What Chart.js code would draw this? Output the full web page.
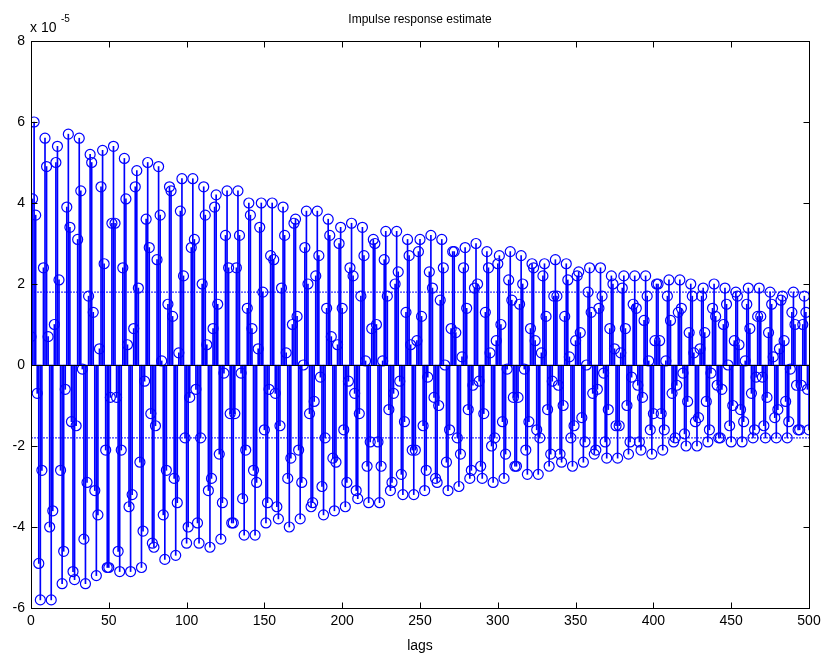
<!DOCTYPE html>
<html>
<head>
<meta charset="utf-8">
<title>Impulse response estimate</title>
<script src="https://cdn.jsdelivr.net/npm/chart.js@4.4.1/dist/chart.umd.min.js"></script>
<style>
  html, body { margin: 0; padding: 0; background: #fff; }
  #wrap { width: 827px; height: 658px; }
</style>
</head>
<body>
<div id="wrap"><canvas id="chart" width="827" height="658"></canvas></div>
<script>
'use strict';

// impulse response estimate, one value per lag (lag = index, 0..500), in units of 1e-5
const irValues = [
  0.7, 4.1, 6.0, 3.7, -0.7, -4.9, -5.8, -2.6, 2.4, 5.6, 4.9, 0.7, -4.0, -5.8, -3.6, 1.0, 5.0, 5.4, 2.1, -2.6, -5.4, -4.6,
  -0.6, 3.9, 5.7, 3.4, -1.4, -5.1, -5.3, -1.5, 3.1, 5.6, 4.3, -0.1, -4.3, -5.4, -2.9, 1.7, 5.2, 5.0, 1.3, -3.1, -5.2, -3.7,
  0.4, 4.4, 5.3, 2.5, -2.1, -5.0, -5.0, -0.8, 3.5, 5.4, 3.5, -0.8, -4.6, -5.1, -2.1, 2.4, 5.1, 4.1, 0.5, -3.5, -5.1, -3.2,
  0.9, 4.4, 4.8, 1.9, -2.4, -5.0, -4.1, -0.4, 3.6, 5.0, 2.9, -1.2, -4.4, -4.5, -1.5, 2.6, 4.9, 3.7, 0.1, -3.7, -4.8, -2.6,
  1.5, 4.4, 4.3, 1.2, -2.8, -4.7, -3.4, 0.3, 3.8, 4.6, 2.2, -1.8, -4.4, -4.0, -0.8, 2.9, 4.6, 3.1, -0.6, -3.9, -4.4, -1.8,
  2.0, 4.4, 3.7, 0.5, -3.1, -4.5, -2.8, 0.9, 3.9, 4.2, 1.5, -2.2, -4.3, -3.4, -0.2, 3.2, 4.3, 2.4, -1.2, -3.9, -3.9, -1.2,
  2.4, 4.3, 3.2, -0.2, -3.3, -4.2, -2.1, 1.4, 4.0, 3.7, 0.9, -2.6, -4.2, -2.9, 0.4, 3.4, 4.0, 1.8, -1.6, -3.9, -3.4, -0.6,
  2.7, 4.0, 2.6, -0.7, -3.5, -3.8, -1.5, 1.9, 3.9, 3.2, 0.3, -2.8, -4.0, -2.3, 1.0, 3.5, 3.6, 1.2, -2.1, -3.8, -2.9, 0.0,
  2.9, 3.8, 2.0, -1.2, -3.5, -3.4, -0.9, 2.2, 3.8, 2.7, -0.3, -3.0, -3.7, -1.8, 1.4, 3.6, 3.2, 0.7, -2.3, -3.6, -2.4, 0.5,
  3.0, 3.4, 1.4, -1.6, -3.5, -2.9, -0.4, 2.4, 3.5, 2.2, -0.7, -3.1, -3.3, -1.2, 1.7, 3.4, 2.7, 0.1, -2.5, -3.4, -1.9, 0.9,
  3.1, 3.0, 1.0, -1.9, -3.4, -2.5, 0.1, 2.6, 3.3, 1.7, -1.1, -3.1, -2.9, -0.7, 2.0, 3.3, 2.3, -0.4, -2.7, -3.2, -1.4, 1.3,
  3.1, 2.7, 0.5, -2.1, -3.2, -2.1, 0.6, 2.8, 3.1, 1.2, -1.5, -3.1, -2.6, -0.3, 2.3, 3.2, 1.9, -0.8, -2.8, -2.9, -1.0, 1.6,
  3.1, 2.4, 0.0, -2.4, -3.1, -1.6, 0.9, 2.8, 2.8, 0.8, -1.8, -3.0, -2.2, 0.2, 2.4, 2.9, 1.4, -1.1, -2.8, -2.6, -0.5, 1.9,
  3.0, 2.0, -0.4, -2.5, -2.8, -1.2, 1.3, 2.8, 2.4, 0.3, -2.0, -2.9, -1.8, 0.6, 2.5, 2.7, 1.0, -1.4, -2.8, -2.2, -0.1, 2.1,
  2.8, 1.6, -0.8, -2.5, -2.5, -0.8, 1.5, 2.7, 2.0, -0.1, -2.1, -2.7, -1.4, 0.9, 2.5, 2.4, 0.6, -1.6, -2.7, -1.8, 0.3, 2.2,
  2.5, 1.2, -1.1, -2.5, -2.2, -0.4, 1.7, 2.6, 1.7, -0.5, -2.2, -2.4, -1.0, 1.2, 2.5, 2.1, 0.2, -1.8, -2.5, -1.5, 0.6, 2.2,
  2.3, 0.8, -1.3, -2.4, -1.9, 0.0, 1.8, 2.4, 1.3, -0.7, -2.2, -2.1, -0.6, 1.4, 2.4, 1.7, -0.2, -1.9, -2.3, -1.1, 0.9, 2.2,
  2.0, 0.4, -1.5, -2.3, -1.5, 0.3, 1.9, 2.2, 0.9, -1.0, -2.2, -1.9, -0.3, 1.5, 2.2, 1.4, -0.5, -1.9, -2.1, -0.8, 1.1, 2.2,
  1.7, 0.1, -1.6, -2.2, -1.2, 0.6, 2.0, 2.0, 0.6, -1.2, -2.1, -1.6, 0.1, 1.7, 2.1, 1.1, -0.7, -1.9, -1.8, -0.5, 1.3, 2.1,
  1.4, -0.2, -1.7, -2.0, -0.9, 0.8, 2.0, 1.7, 0.3, -1.4, -2.0, -1.3, 0.4, 1.7, 1.9, 0.8, -0.9, -1.9, -1.6, -0.2, 1.4, 2.0,
  1.2, -0.5, -1.8, -1.8, -0.6, 1.0, 1.9, 1.5, 0.0, -1.5, -1.9, -1.0, 0.6, 1.8, 1.7, 0.5, -1.1, -1.9, -1.4, 0.1, 1.5, 1.9,
  0.9, -0.7, -1.8, -1.6, -0.3, 1.2, 1.9, 1.2, -0.3, -1.5, -1.8, -0.8, 0.8, 1.8, 1.5, 0.2, -1.3, -1.8, -1.1, 0.4, 1.6, 1.7,
  0.6, -0.9, -1.8, -1.4, -0.1, 1.3, 1.8, 1.0, -0.5, -1.6, -1.6, -0.5, 1.0, 1.7, 1.3, -0.6, -1.6
];
const confBound = 1.8; // confidence band, +/- (units of 1e-5)
const xTicks = [0, 50, 100, 150, 200, 250, 300, 350, 400, 450, 500];
const yTicks = [-6, -4, -2, 0, 2, 4, 6, 8];
const titleText = 'Impulse response estimate';
const xLabel = 'lags';
const yExponent = '-5';

const BLUE = '#0000ff';
const FONT = '"Liberation Sans", Arial, Helvetica, sans-serif';

const stemPoints = irValues.map((v, i) => ({ x: i, y: v }));
const xMin = xTicks[0], xMax = xTicks[xTicks.length - 1];

// box, inward ticks, zero line and the texts matlab puts around the axes
const matlabAxes = {
  id: 'matlabAxes',
  afterDatasetsDraw(chart) {
    const { ctx, chartArea: a, scales: { x, y } } = chart;
    ctx.save();
    ctx.strokeStyle = '#000';
    ctx.lineWidth = 1;

    const y0 = Math.round(y.getPixelForValue(0)) + 0.5;
    ctx.beginPath();
    ctx.moveTo(a.left, y0);
    ctx.lineTo(a.right, y0);
    ctx.stroke();

    const L = Math.round(a.left) + 0.5, R = Math.round(a.right) + 0.5;
    const T = Math.round(a.top) + 0.5, B = Math.round(a.bottom) + 0.5;
    ctx.strokeRect(L, T, R - L, B - T);

    const tl = 6;
    ctx.beginPath();
    xTicks.forEach(v => {
      const px = Math.round(x.getPixelForValue(v)) + 0.5;
      ctx.moveTo(px, B); ctx.lineTo(px, B - tl);
      ctx.moveTo(px, T); ctx.lineTo(px, T + tl);
    });
    yTicks.forEach(v => {
      const py = Math.round(y.getPixelForValue(v)) + 0.5;
      ctx.moveTo(L, py); ctx.lineTo(L + tl, py);
      ctx.moveTo(R, py); ctx.lineTo(R - tl, py);
    });
    ctx.stroke();

    ctx.fillStyle = '#000';
    ctx.textBaseline = 'alphabetic';
    ctx.textAlign = 'center';
    ctx.font = '12px ' + FONT;
    ctx.fillText(titleText, (a.left + a.right) / 2, 23);
    ctx.font = '14px ' + FONT;
    ctx.fillText(xLabel, (a.left + a.right) / 2, 650);
    ctx.textAlign = 'left';
    ctx.fillText('x 10', 30, 32);
    ctx.font = '10px ' + FONT;
    ctx.fillText(yExponent, 61, 22);
    ctx.restore();
  }
};

new Chart(document.getElementById('chart'), {
  type: 'bar',
  data: {
    datasets: [
      {
        type: 'scatter',
        data: stemPoints,
        pointStyle: 'circle',
        pointRadius: 5,
        pointBorderWidth: 1.2,
        borderColor: BLUE,
        backgroundColor: 'rgba(0,0,0,0)',
        order: 1
      },
      {
        type: 'bar',
        data: stemPoints,
        backgroundColor: BLUE,
        barThickness: 1,
        grouped: false,
        order: 3
      },
      {
        type: 'line',
        data: [{ x: xMin, y: confBound }, { x: xMax, y: confBound }],
        borderColor: BLUE,
        borderWidth: 1,
        borderDash: [2, 1],
        pointRadius: 0,
        order: 2
      },
      {
        type: 'line',
        data: [{ x: xMin, y: -confBound }, { x: xMax, y: -confBound }],
        borderColor: BLUE,
        borderWidth: 1,
        borderDash: [2, 1],
        pointRadius: 0,
        order: 2
      }
    ]
  },
  options: {
    responsive: false,
    animation: false,
    devicePixelRatio: 1,
    layout: { padding: { top: 41, right: 18, left: 0, bottom: 0 } },
    plugins: {
      legend: { display: false },
      tooltip: { enabled: false },
      title: { display: false }
    },
    scales: {
      x: {
        type: 'linear',
        min: xMin,
        max: xMax,
        offset: false,
        grid: { display: false, drawTicks: false },
        border: { display: false },
        afterBuildTicks: s => { s.ticks = xTicks.map(v => ({ value: v })); },
        afterFit: s => { s.height = 50; },
        ticks: {
          color: '#000',
          font: { family: FONT, size: 14 },
          padding: 5,
          maxRotation: 0,
          autoSkip: false
        }
      },
      y: {
        min: yTicks[0],
        max: yTicks[yTicks.length - 1],
        grid: { display: false, drawTicks: false },
        border: { display: false },
        afterBuildTicks: s => { s.ticks = yTicks.map(v => ({ value: v })); },
        afterFit: s => { s.width = 31; },
        ticks: {
          color: '#000',
          font: { family: FONT, size: 14 },
          padding: 6
        }
      }
    }
  },
  plugins: [matlabAxes]
});
</script>
</body>
</html>
